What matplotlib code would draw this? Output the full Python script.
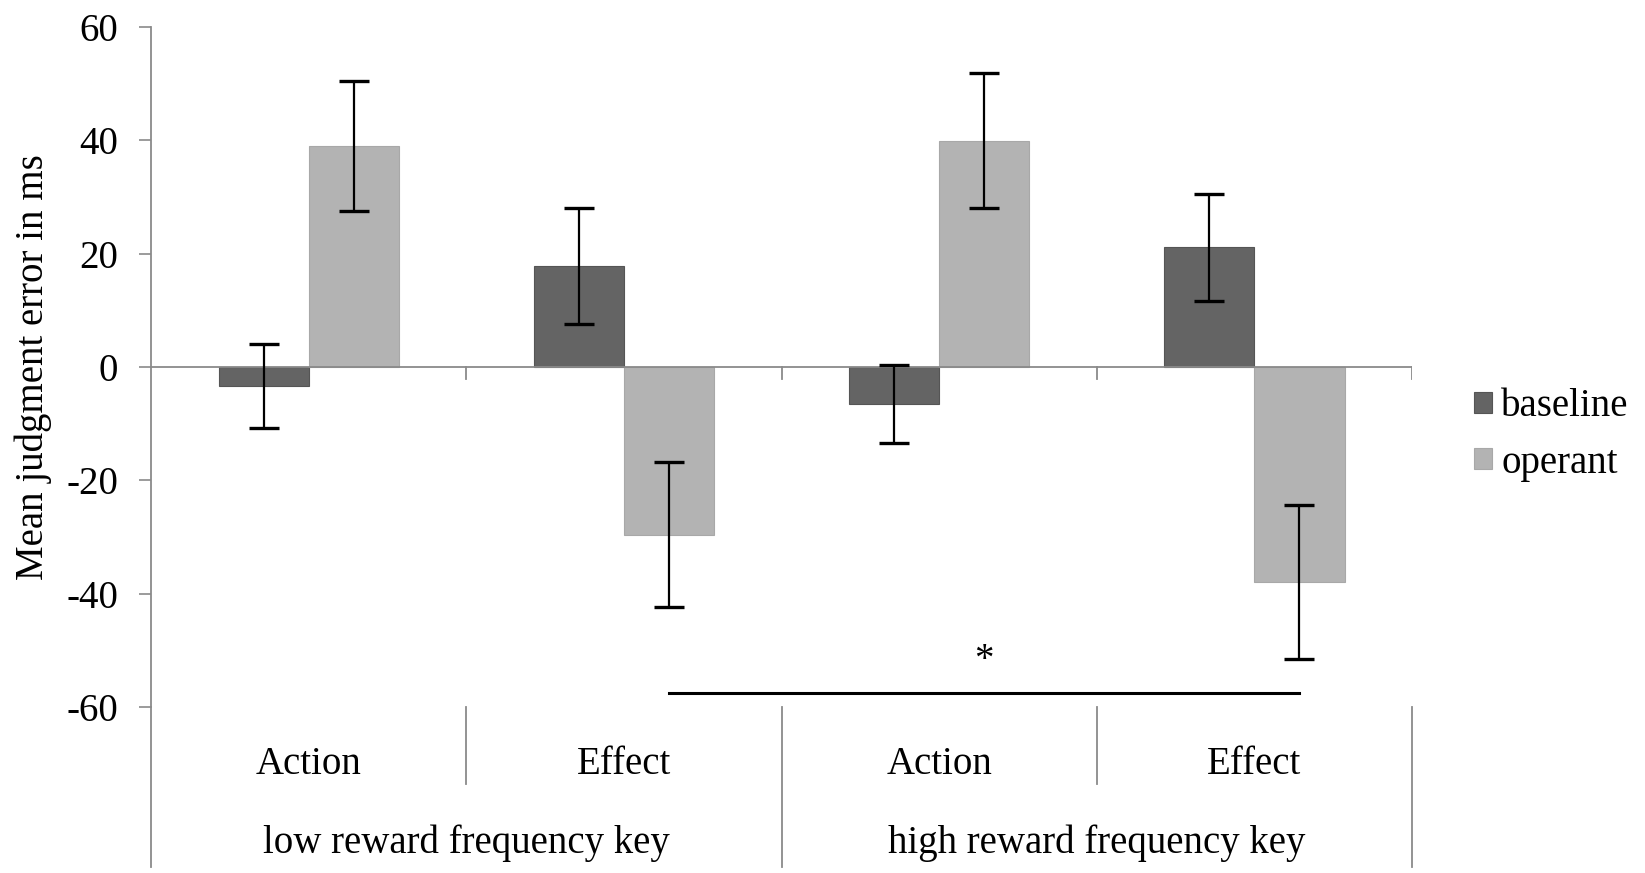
import matplotlib.pyplot as plt
import numpy as np

plt.rcParams["font.family"] = ["Liberation Serif", "DejaVu Serif"]

# --------------------------------------------------
# Data
# --------------------------------------------------

inner_labels = ["Action", "Effect", "Action", "Effect"]
outer_labels = ["low reward frequency key", "high reward frequency key"]
series = ["baseline", "operant"]

baseline_mean = [-3.3, 17.8, -6.5, 21.1]
baseline_err = [7.4, 10.2, 6.9, 9.5]

operant_mean = [39.0, -29.6, 39.9, -38.0]
operant_err = [11.4, 12.8, 11.9, 13.6]

yticks = [60, 40, 20, 0, -20, -40, -60]

# significance bracket: from operant bar of category 1 to operant bar of category 3
sig_from, sig_to = 1, 3
sig_level = -57.6
sig_mark = "*"

# --------------------------------------------------
# Style
# --------------------------------------------------

dark = "#646464"
light = "#b3b3b3"
axis_gray = "#8a8a8a"
fs = 28

fig = plt.figure(figsize=(16.45, 8.73), dpi=100)
ax = fig.add_axes([0.0918, 0.1901, 0.7666, 0.7790])

x = np.arange(len(inner_labels))
w = 1 / 3.5

b1 = ax.bar(x - w / 2, baseline_mean, w, color=dark, edgecolor="#555555",
            linewidth=0.8, zorder=2, label=series[0])
b2 = ax.bar(x + w / 2, operant_mean, w, color=light, edgecolor="#a8a8a8",
            linewidth=0.8, zorder=2, label=series[1])

for xs, m, e in [(x - w / 2, baseline_mean, baseline_err),
                 (x + w / 2, operant_mean, operant_err)]:
    ax.errorbar(xs, m, yerr=e, fmt="none", ecolor="black",
                elinewidth=1.6, capsize=11, capthick=2.4, zorder=4)

# zero line and small ticks between categories
ax.axhline(0, color=axis_gray, linewidth=1.3, zorder=3)
for b in np.arange(0.5, len(x) + 0.5, 1.0):
    ax.plot([b, b], [0, -2.1], color=axis_gray, linewidth=1.3, zorder=3)

# --------------------------------------------------
# Multi-level category axis below the plot
# --------------------------------------------------

for i, b in enumerate(np.arange(-0.5, len(x), 1.0)):
    bottom = -88.2 if i % 2 == 0 else -73.6
    ax.plot([b, b], [-60, bottom], color=axis_gray, linewidth=1.3,
            clip_on=False, zorder=3)

for xi, lab in zip(x, inner_labels):
    ax.text(xi, -71.8, lab, ha="center", va="baseline", fontsize=fs)

for j, lab in enumerate(outer_labels):
    ax.text(2 * j + 0.5, -85.8, lab, ha="center", va="baseline", fontsize=fs)

# --------------------------------------------------
# Significance bracket
# --------------------------------------------------

x0 = x[sig_from] + w / 2
x1 = x[sig_to] + w / 2
ax.plot([x0, x1], [sig_level, sig_level], color="black", linewidth=2.2,
        zorder=4)
ax.text((x0 + x1) / 2, sig_level + 2.6, sig_mark, ha="center", va="bottom",
        fontsize=fs)

# --------------------------------------------------
# Axes appearance
# --------------------------------------------------

ax.set_xlim(-0.5, len(x) - 0.5)
ax.set_ylim(-60, 60)
ax.set_yticks(yticks)
ax.set_yticklabels([str(t) for t in yticks])
ax.set_xticks([])

ax.tick_params(axis="y", length=8.6, width=1.2, color=axis_gray, pad=15,
               labelsize=fs)

for s in ["top", "right", "bottom"]:
    ax.spines[s].set_visible(False)
ax.spines["left"].set_color(axis_gray)
ax.spines["left"].set_linewidth(1.3)

fig.text(0.020, 0.5796, "Mean judgment error in ms", rotation=90,
         ha="center", va="center", fontsize=fs)

ax.legend([b1, b2], series, loc="center left",
          bbox_to_anchor=(1474 / 1645, 1 - 435 / 873),
          bbox_transform=fig.transFigure, frameon=False, fontsize=fs,
          handlelength=0.45, handleheight=0.45, handletextpad=0.25,
          labelspacing=0.5, borderpad=0, borderaxespad=0)

fig.savefig("out.png", dpi=100)
